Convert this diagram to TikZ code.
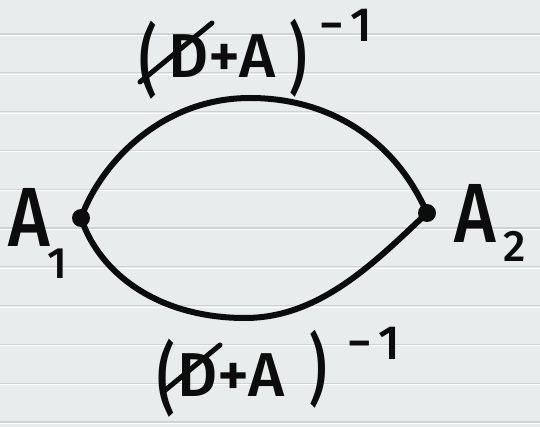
\documentclass[tikz,border=0pt]{standalone}
\usepackage{fontspec}
\setmainfont{Fira Sans}[UprightFont={* Medium}, BoldFont={* SemiBold}]
\usepackage{graphicx}
\definecolor{paper}{HTML}{E9ECEC}
\definecolor{rulegray}{HTML}{CDD2D2}
\definecolor{ink}{HTML}{0C0C0C}
\newcommand{\fs}[1]{\fontsize{#1}{#1}\selectfont}
\newcommand{\tallparen}[1]{\scalebox{0.9}[1.3]{#1}}
\begin{document}
\begin{tikzpicture}[x=1pt,y=-1pt,
  wire/.style={line width=6pt, draw=ink, line cap=round, line join=round},
  vtx/.style={circle, fill=ink, inner sep=0pt, minimum size=18pt},
  txt/.style={text=ink, inner sep=0pt, outer sep=0pt},
  paren/.style={txt, font=\fs{60}},
  body/.style={txt, font=\fs{62}},
  expo/.style={txt, font=\fs{48}},
  big/.style={txt, font=\fs{84}},
  subs/.style={txt, font=\fs{44}}]
% ruled paper
\fill[paper] (0,0) rectangle (540,427);
\useasboundingbox (0,0) rectangle (540,427);
\foreach \k in {0,...,10}{
  \draw[rulegray, line width=1.1pt] (0,34+38.8*\k) -- (540,34+38.8*\k);
  \draw[white, line width=0.7pt] (0,35.3+38.8*\k) -- (540,35.3+38.8*\k);
}
% vertices
\node[vtx] (a1) at (81,218) {};
\node[vtx] (a2) at (427,213) {};
\coordinate (top) at (250,98);
\coordinate (bot) at (245,318);
% the two propagators
\draw[wire] (a1.center) .. controls (100,165) and (160,98) .. (top)
            .. controls (330,98) and (395,140) .. (a2.center);
\draw[wire] (a1.center) .. controls (100,275) and (160,318) .. (bot)
            .. controls (320,318) and (375,262) .. (a2.center);
% vertex labels
\node[big]  (l1)  at (29,217)  {\scalebox{0.85}[1]{A}};
\node[subs] (l1s) at (57,264)  {1};
\node[big]  (l2)  at (475,213) {\scalebox{0.85}[1]{A}};
\node[subs] (l2s) at (515,246) {2};
% upper label
\node[paren] (tl) at (148,60)  {\tallparen{(}};
\node[body]  (tb) at (222,56)  {D+A};
\node[paren] (tr) at (298,58)  {\tallparen{)}};
\node[expo]  (te) at (346,25)  {−\hspace{6pt}1};
\draw[ink, line width=5pt, line cap=round] (140,82) -- (212,23);
% lower label
\node[paren] (bl) at (166,378) {\tallparen{(}};
\node[body]  (bb) at (231,375) {D+A};
\node[paren] (br) at (318,369) {\tallparen{)}};
\node[expo]  (be) at (374,343) {−\hspace{6pt}1};
\draw[ink, line width=5pt, line cap=round] (163,392) -- (220,345);
\end{tikzpicture}
\end{document}
